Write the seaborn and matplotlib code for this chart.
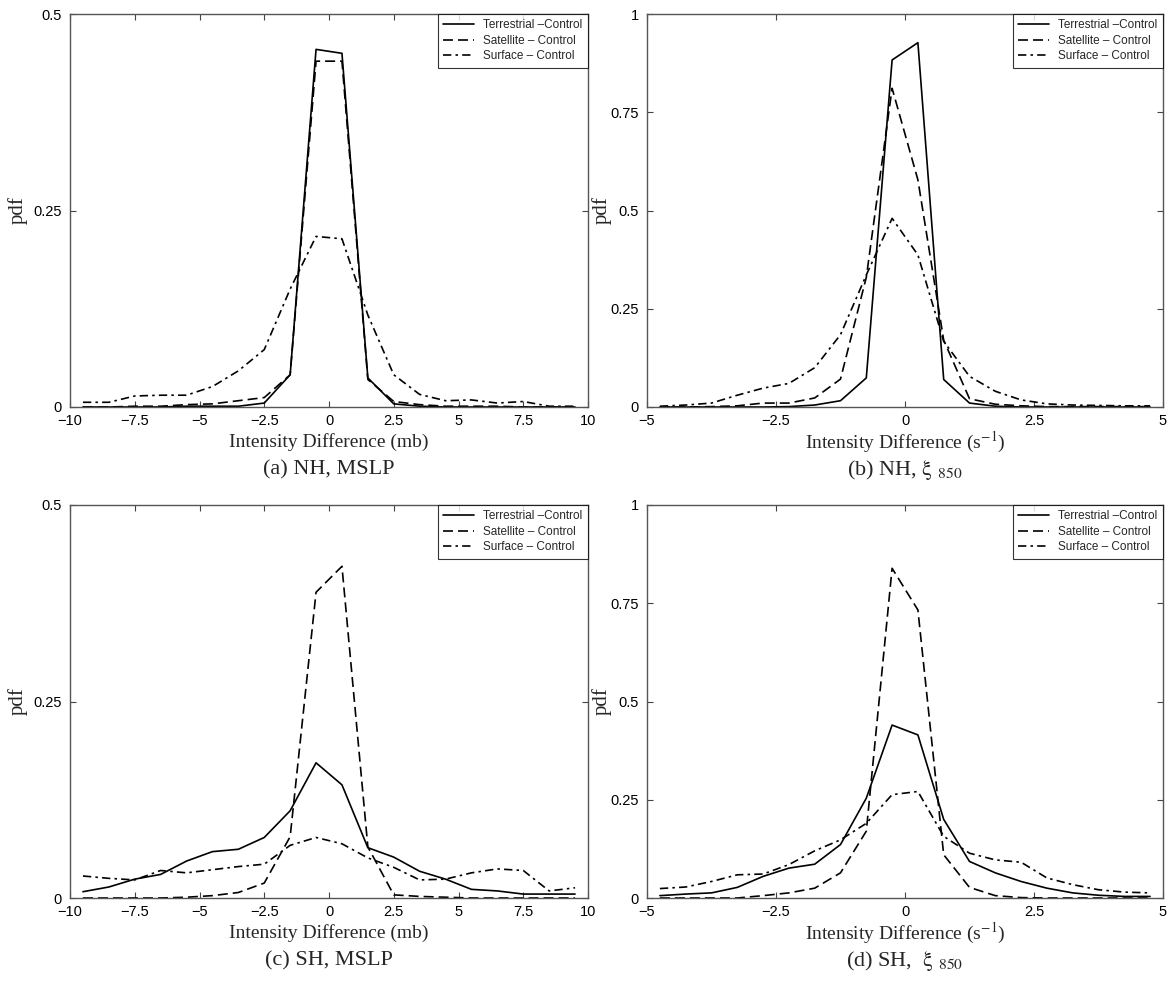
import matplotlib
matplotlib.use("Agg")
import matplotlib.pyplot as plt
import numpy as np
import pandas as pd
import seaborn as sns
from matplotlib.ticker import FuncFormatter

# bin centres
x_mslp = np.arange(-9.5, 10, 1.0)
x_vort = np.arange(-4.75, 5, 0.5)

series_names = ["Terrestrial \u2013Control", "Satellite \u2013 Control", "Surface \u2013 Control"]

# (a) NH, MSLP
nh_mslp_terr = [0, 0, 0, 0, 0.001, 0.001, 0.001, 0.005, 0.041, 0.455,
                0.450, 0.037, 0.004, 0.001, 0, 0, 0, 0, 0, 0]
nh_mslp_sat = [0, 0, 0.001, 0.001, 0.003, 0.004, 0.008, 0.012, 0.041, 0.440,
               0.440, 0.035, 0.007, 0.003, 0.001, 0.001, 0.001, 0, 0, 0]
nh_mslp_surf = [0.006, 0.006, 0.014, 0.015, 0.015, 0.026, 0.046, 0.073, 0.150, 0.217,
                0.214, 0.117, 0.041, 0.016, 0.008, 0.009, 0.005, 0.007, 0.001, 0.001]

# (b) NH, xi850
nh_vort_terr = [0, 0, 0, 0, 0, 0.001, 0.005, 0.016, 0.074, 0.883,
                0.927, 0.070, 0.010, 0.002, 0, 0, 0, 0, 0, 0]
nh_vort_sat = [0, 0, 0.001, 0.003, 0.010, 0.010, 0.023, 0.071, 0.330, 0.811,
               0.578, 0.170, 0.021, 0.007, 0.003, 0.001, 0.001, 0.001, 0.001, 0.001]
nh_vort_surf = [0.002, 0.005, 0.010, 0.030, 0.048, 0.060, 0.100, 0.184, 0.336, 0.480,
                0.387, 0.167, 0.078, 0.040, 0.018, 0.008, 0.005, 0.004, 0.003, 0.003]

# (c) SH, MSLP
sh_mslp_terr = [0.008, 0.014, 0.024, 0.030, 0.047, 0.059, 0.062, 0.077, 0.111, 0.172,
                0.144, 0.064, 0.052, 0.034, 0.024, 0.011, 0.009, 0.005, 0.005, 0.005]
sh_mslp_sat = [0, 0, 0, 0, 0.001, 0.003, 0.007, 0.019, 0.078, 0.389,
               0.422, 0.065, 0.004, 0.002, 0.001, 0, 0, 0, 0, 0]
sh_mslp_surf = [0.028, 0.025, 0.023, 0.035, 0.032, 0.036, 0.040, 0.043, 0.067, 0.077,
                0.069, 0.051, 0.039, 0.023, 0.024, 0.032, 0.037, 0.035, 0.009, 0.013]

# (d) SH, xi850
sh_vort_terr = [0.006, 0.010, 0.013, 0.027, 0.055, 0.076, 0.086, 0.136, 0.254, 0.440,
                0.415, 0.200, 0.093, 0.064, 0.042, 0.025, 0.013, 0.007, 0.004, 0.004]
sh_vort_sat = [0, 0, 0, 0, 0.006, 0.013, 0.025, 0.064, 0.170, 0.839,
               0.733, 0.110, 0.027, 0.006, 0.001, 0, 0, 0, 0, 0]
sh_vort_surf = [0.024, 0.028, 0.042, 0.059, 0.061, 0.085, 0.120, 0.148, 0.190, 0.263,
                0.271, 0.157, 0.114, 0.097, 0.091, 0.051, 0.034, 0.021, 0.015, 0.013]

mslp_xticks = [-10, -7.5, -5, -2.5, 0, 2.5, 5, 7.5, 10]
vort_xticks = [-5, -2.5, 0, 2.5, 5]
mslp_yticks = [0, 0.25, 0.5]
vort_yticks = [0, 0.25, 0.5, 0.75, 1]

sns.set_style("ticks")
plt.rcParams["font.family"] = ["Liberation Sans", "DejaVu Sans"]
plt.rcParams["mathtext.fontset"] = "stix"

fig = plt.figure(figsize=(11.7, 9.83), dpi=100)
W, H = 1170, 983


def panel(left, top, right, bottom):
    return fig.add_axes([left / W, 1 - bottom / H, (right - left) / W, (bottom - top) / H])


panels = [
    (panel(70, 14, 588, 407), x_mslp, [nh_mslp_terr, nh_mslp_sat, nh_mslp_surf],
     (-10, 10), mslp_xticks, (0, 0.5), mslp_yticks,
     "Intensity Difference (mb)", "(a) NH, MSLP", -0.082),
    (panel(647, 14, 1163, 407), x_vort, [nh_vort_terr, nh_vort_sat, nh_vort_surf],
     (-5, 5), vort_xticks, (0, 1), vort_yticks,
     "Intensity Difference (s$^{-1}$)", "(b) NH, $\\mathrm{\\xi}$ $_{850}$", -0.068),
    (panel(70, 505, 588, 898), x_mslp, [sh_mslp_terr, sh_mslp_sat, sh_mslp_surf],
     (-10, 10), mslp_xticks, (0, 0.5), mslp_yticks,
     "Intensity Difference (mb)", "(c) SH, MSLP", -0.082),
    (panel(647, 505, 1163, 898), x_vort, [sh_vort_terr, sh_vort_sat, sh_vort_surf],
     (-5, 5), vort_xticks, (0, 1), vort_yticks,
     "Intensity Difference (s$^{-1}$)", "(d) SH,  $\\mathrm{\\xi}$ $_{850}$", -0.068),
]

dash_styles = ["", (6, 3), (5, 2.5, 1.5, 2.5)]
fmt = FuncFormatter(lambda v, p: f"{v:g}".replace("-", "\u2212"))

for ax, xs, ys, xlim, xticks, ylim, yticks, xlabel, caption, ylab_x in panels:
    df = pd.DataFrame({
        "x": np.concatenate([xs] * 3),
        "pdf": np.concatenate(ys),
        "series": np.repeat(series_names, len(xs)),
    })
    sns.lineplot(data=df, x="x", y="pdf", style="series", dashes=dash_styles,
                 color="black", linewidth=1.2, ax=ax, legend=False)
    handles = [plt.Line2D([], [], color="black", linewidth=1.2, linestyle="-")]
    for d in dash_styles[1:]:
        handles.append(plt.Line2D([], [], color="black", linewidth=1.2, dashes=d))
    leg = ax.legend(handles, series_names, loc="upper right", borderaxespad=0,
                    fontsize=8.5, frameon=True, fancybox=False, handlelength=2.6,
                    labelspacing=0.3, borderpad=0.45)
    leg.get_frame().set_edgecolor("black")
    leg.get_frame().set_linewidth(0.8)

    ax.set_xlim(*xlim)
    ax.set_ylim(*ylim)
    ax.set_xticks(xticks)
    ax.set_yticks(yticks)
    ax.xaxis.set_major_formatter(fmt)
    ax.yaxis.set_major_formatter(fmt)
    ax.tick_params(direction="in", length=4, width=0.8, top=True, right=True,
                   labelsize=10.5, colors="#444444", labelcolor="black")
    ax.tick_params(axis="x", pad=5)
    ax.tick_params(axis="y", pad=6)
    for s in ax.spines.values():
        s.set_color("#555555")
        s.set_linewidth(1.0)

    ax.set_xlabel("")
    ax.set_ylabel("pdf", family="Liberation Serif", fontsize=15)
    ax.yaxis.set_label_coords(ylab_x, 0.5)
    ax.text(0.5, -0.09, xlabel, transform=ax.transAxes, ha="center", va="center",
            family="Liberation Serif", fontsize=14)
    ax.text(0.5, -0.16, caption, transform=ax.transAxes, ha="center", va="center",
            family="Liberation Serif", fontsize=16)

fig.savefig("out.png", dpi=100)
